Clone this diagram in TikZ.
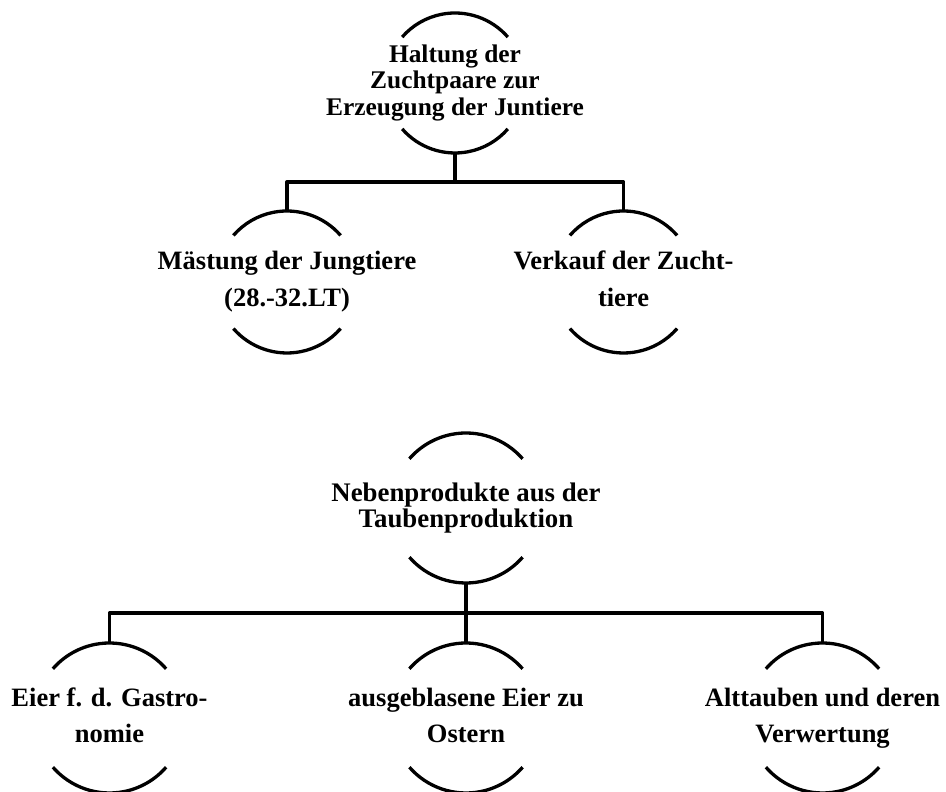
\documentclass[tikz,border=0pt]{standalone}
\usepackage{fontspec}
\setmainfont{Liberation Serif}
\usepackage{xcolor}
\definecolor{Ink}{HTML}{000000}
\tikzset{
  ring/.style={circle, minimum size=2*#1, inner sep=0pt, outer sep=0pt},
  ringline/.style={draw=Ink, line width=3.3pt},
  bus/.style={draw=Ink, line width=3.3pt, line join=round},
  ringtext/.style={align=center, inner sep=0pt, text=Ink,
    execute at begin node=\vphantom{(}, execute at end node=\vphantom{(}},
  headtext/.style={ringtext, font=\bfseries\fontsize{#1}{26.5}\selectfont},
  leaftext/.style={ringtext, font=\bfseries\fontsize{26.5}{#1}\selectfont}
}
% two open half rings round a node
\newcommand{\ringarcs}[2]{
  \draw[ringline] (#1.41) arc (41:139:#2);
  \draw[ringline] (#1.221) arc (221:319:#2);
}

\begin{document}
\begin{tikzpicture}[x=1pt, y=1pt]
        \useasboundingbox (0,0) rectangle (946,792);
        \fill[white] (0,0) rectangle (946,792);

        % breeding pairs and what comes of them
        \node[ring=70pt, label={[headtext=25.4]center:{Haltung der\\Zuchtpaare zur\\Erzeugung der Juntiere}}] (haltung) at (455,709) {};
        \node[ring=71pt, label={[leaftext=37]center:{Mästung der Jungtiere\\(28.-32.LT)}}] (maestung) at (287,510) {};
        \node[ring=71pt, label={[leaftext=37]center:{Verkauf der Zucht-\\tiere}}] (verkauf) at (623.5,510) {};
        \ringarcs{haltung}{70pt}
        \ringarcs{maestung}{71pt}
        \ringarcs{verkauf}{71pt}
        \path (haltung.south) ++(0,-29) coordinate (forkA);
        \draw[bus] (haltung.south) -- (forkA) -| (maestung.north);
        \draw[bus] (forkA) -| (verkauf.north);

        % by-products
        \node[ring=75pt, label={[headtext=26.8]center:{Nebenprodukte aus der\\Taubenproduktion}}] (neben) at (466,284) {};
        \node[ring=75pt, label={[leaftext=35.5]center:{Eier f. d. Gastro-\\nomie}}] (eier) at (109.5,74) {};
        \node[ring=75pt, label={[leaftext=35.5]center:{ausgeblasene Eier zu\\Ostern}}] (ostern) at (466,74) {};
        \node[ring=75pt, label={[leaftext=35.5]center:{Alttauben und deren\\Verwertung}}] (alttauben) at (822.5,74) {};
        \ringarcs{neben}{75pt}
        \ringarcs{eier}{75pt}
        \ringarcs{ostern}{75pt}
        \ringarcs{alttauben}{75pt}
        \path (neben.south) ++(0,-30) coordinate (forkB);
        \draw[bus] (neben.south) -- (ostern.north);
        \draw[bus] (forkB) -| (eier.north);
        \draw[bus] (forkB) -| (alttauben.north);
      \end{tikzpicture}
\end{document}
